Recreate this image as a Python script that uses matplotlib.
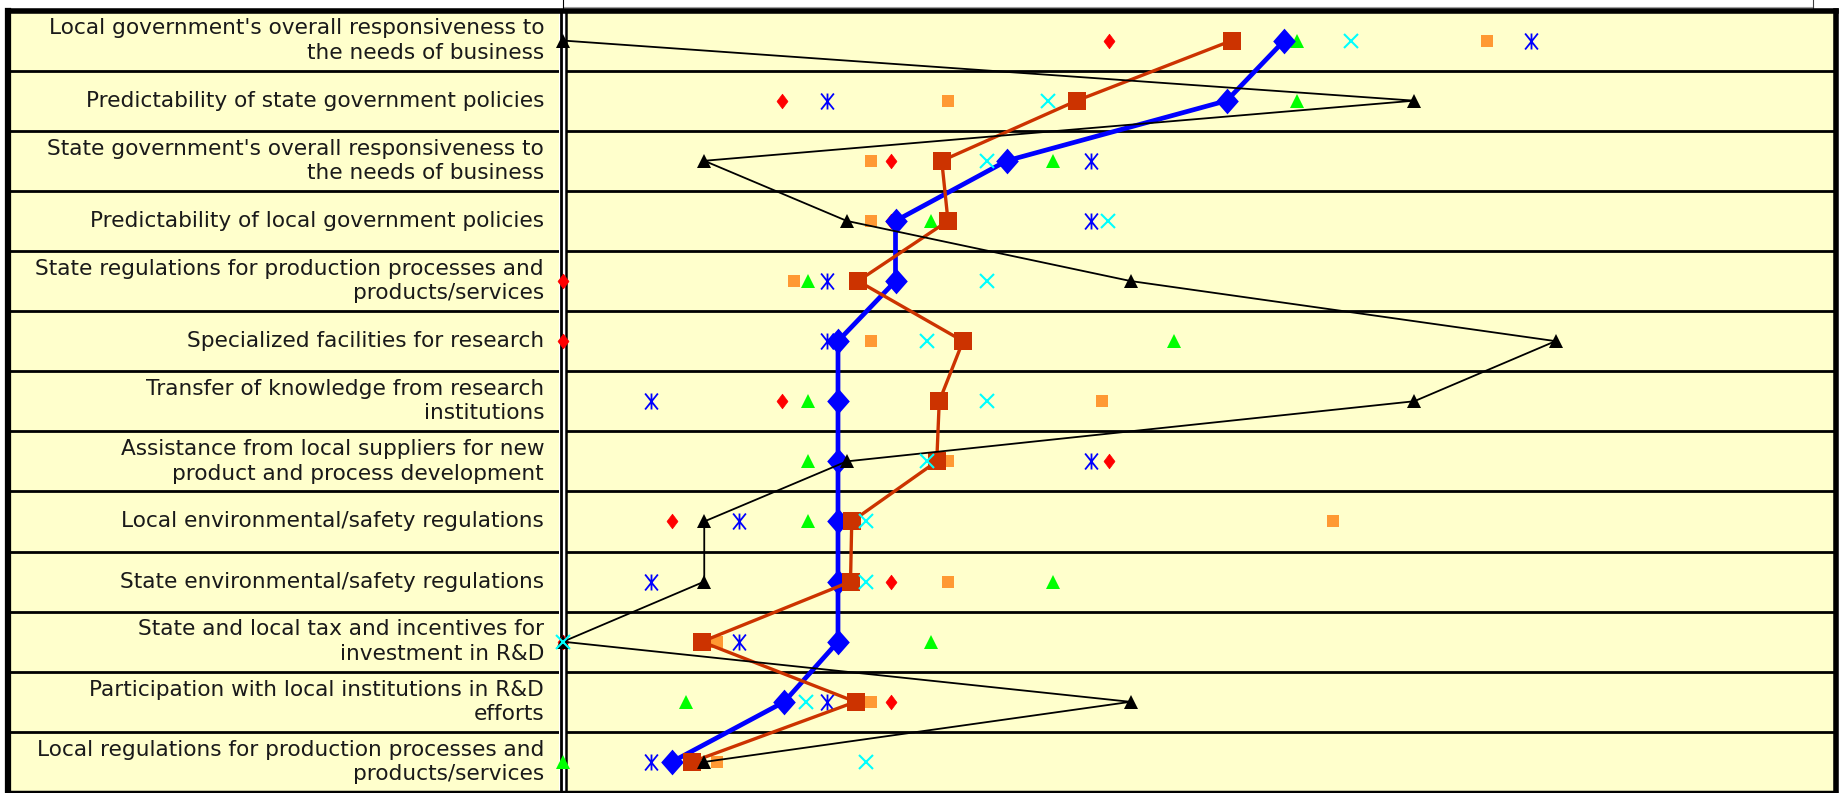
import numpy as np
import matplotlib.pyplot as plt
from matplotlib.path import Path
from matplotlib.patches import Rectangle

# row labels, top to bottom
factors = [
    "Local government's overall responsiveness to\nthe needs of business",
    "Predictability of state government policies",
    "State government's overall responsiveness to\nthe needs of business",
    "Predictability of local government policies",
    "State regulations for production processes and\nproducts/services",
    "Specialized facilities for research",
    "Transfer of knowledge from research\ninstitutions",
    "Assistance from local suppliers for new\nproduct and process development",
    "Local environmental/safety regulations",
    "State environmental/safety regulations",
    "State and local tax and incentives for\ninvestment in R&D",
    "Participation with local institutions in R&D\nefforts",
    "Local regulations for production processes and\nproducts/services",
]

# line series (% scale)
blue_line = [57.7, 53.1, 35.5, 26.6, 26.6, 22.0, 22.0, 22.0, 22.0, 22.0, 22.0, 17.7, 8.7]
rust_line = [53.5, 41.1, 30.3, 30.8, 23.6, 32.0, 30.1, 29.9, 23.1, 23.0, 11.1, 23.4, 10.3]
black_line = [0.0, 68.1, 11.3, 22.7, 45.4, 79.4, 68.1, 22.7, 11.3, 11.3, 0.0, 45.4, 11.3]

# point-only series
red_pts = [43.7, 17.5, 26.2, 26.2, 0.0, 0.0, 17.5, 43.7, 8.7, 26.2, 0.0, 26.2, 8.7]
star_pts = [77.4, 21.1, 42.2, 42.2, 21.1, 21.1, 7.0, 42.2, 14.1, 7.0, 14.1, 21.1, 7.0]
orange_pts = [73.9, 30.8, 24.6, 24.6, 18.5, 24.6, 43.1, 30.8, 61.6, 30.8, 12.3, 24.6, 12.3]
cyan_pts = [63.0, 38.8, 33.9, 43.6, 33.9, 29.1, 33.9, 29.1, 24.2, 24.2, 0.0, 19.4, 24.2]
green_pts = [58.7, 58.7, 39.2, 29.4, 19.6, 48.9, 19.6, 19.6, 19.6, 39.2, 29.4, 9.8, 0.0]

W, H = 1842, 793
fig = plt.figure(figsize=(W / 100, H / 100), dpi=100)

# table background in pixel coordinates
bg = fig.add_axes([0, 0, 1, 1])
bg.set_xlim(0, W)
bg.set_ylim(H, 0)
bg.axis('off')

top, bottom = 10.5, 792
left, right = 8, 1835.5
n = len(factors)
row_h = (bottom - top) / n

bg.add_patch(Rectangle((left, top), right - left, bottom - top,
                       facecolor='#FFFFCC', edgecolor='none', zorder=0))
for i in range(1, n):
    y = top + i * row_h
    bg.plot([left, right], [y, y], color='black', lw=2.0, zorder=1)

# double divider between labels and plot
bg.add_patch(Rectangle((559, top), 8, bottom - top, facecolor='white',
                       edgecolor='none', zorder=2))
bg.plot([560.5, 560.5], [top, bottom], color='black', lw=2.0, zorder=3)
bg.plot([565.5, 565.5], [top, bottom], color='black', lw=1.8, zorder=3)

# outer frame
bg.plot([left, right], [top, top], color='black', lw=4, zorder=4, solid_capstyle='projecting')
bg.plot([left, left], [top, bottom], color='black', lw=4.5, zorder=4)
bg.plot([right, right], [top, bottom], color='black', lw=4, zorder=4)
bg.plot([left, right], [bottom, bottom], color='black', lw=2.5, zorder=4)

# bits of the chart frame peeking above the table
bg.plot([563, 1813], [7, 7], color='#A0A0A0', lw=0.8)
bg.plot([563, 563], [0, 9], color='black', lw=0.8)
bg.plot([1813, 1813], [0, 9], color='#404040', lw=0.8)

for i, lab in enumerate(factors):
    bg.text(544, top + (i + 0.5) * row_h, lab, ha='right', va='center',
            fontsize=15.6, family='DejaVu Sans', color='#1a1a1a',
            linespacing=1.28, zorder=5)

# plot area
ax = fig.add_axes([563 / W, 1 - bottom / H, 1250 / W, (bottom - top) / H])
ax.patch.set_alpha(0)
ax.set_xlim(0, 100)
ax.set_ylim(n, 0)
ax.axis('off')

rows = np.arange(n) + 0.5

diamond = Path([(0, 1), (0.75, 0), (0, -1), (-0.75, 0), (0, 1)],
               [Path.MOVETO, Path.LINETO, Path.LINETO, Path.LINETO, Path.CLOSEPOLY])
asterisk = Path([(0, -1), (0, 1), (-0.8, -1), (0.8, 1), (-0.8, 1), (0.8, -1)],
                [Path.MOVETO, Path.LINETO] * 3)
big_diamond = Path([(0, 1), (0.88, 0), (0, -1), (-0.88, 0), (0, 1)],
                   [Path.MOVETO, Path.LINETO, Path.LINETO, Path.LINETO, Path.CLOSEPOLY])

common = dict(linestyle='none', clip_on=False)
ax.plot(red_pts, rows, marker=diamond, ms=10.5, color='#FF0000', mec='#FF0000',
        mew=0.5, zorder=3, **common)
ax.plot(star_pts, rows, marker=asterisk, ms=11.5, color='#0000FF', mfc='none',
        mew=1.3, zorder=3, **common)
ax.plot(orange_pts, rows, marker='s', ms=8.5, color='#FF9933', mew=0,
        zorder=3, **common)
ax.plot(green_pts, rows, marker='^', ms=10, color='#00FF00', mew=0,
        zorder=3, **common)

ax.plot(blue_line, rows, color='#0000FF', lw=3.4, marker=big_diamond, ms=18.5,
        mew=0, zorder=4, clip_on=False)
ax.plot(rust_line, rows, color='#CC3300', lw=2.4, marker='s', ms=12.5,
        mew=0, zorder=5, clip_on=False)
ax.plot(black_line, rows, color='black', lw=1.3, marker='^', ms=10.5,
        mew=0, zorder=6, clip_on=False)
ax.plot(cyan_pts, rows, marker='x', ms=10, color='#00FFFF', mew=1.5,
        zorder=7, **common)

fig.savefig('out.png', dpi=100)
